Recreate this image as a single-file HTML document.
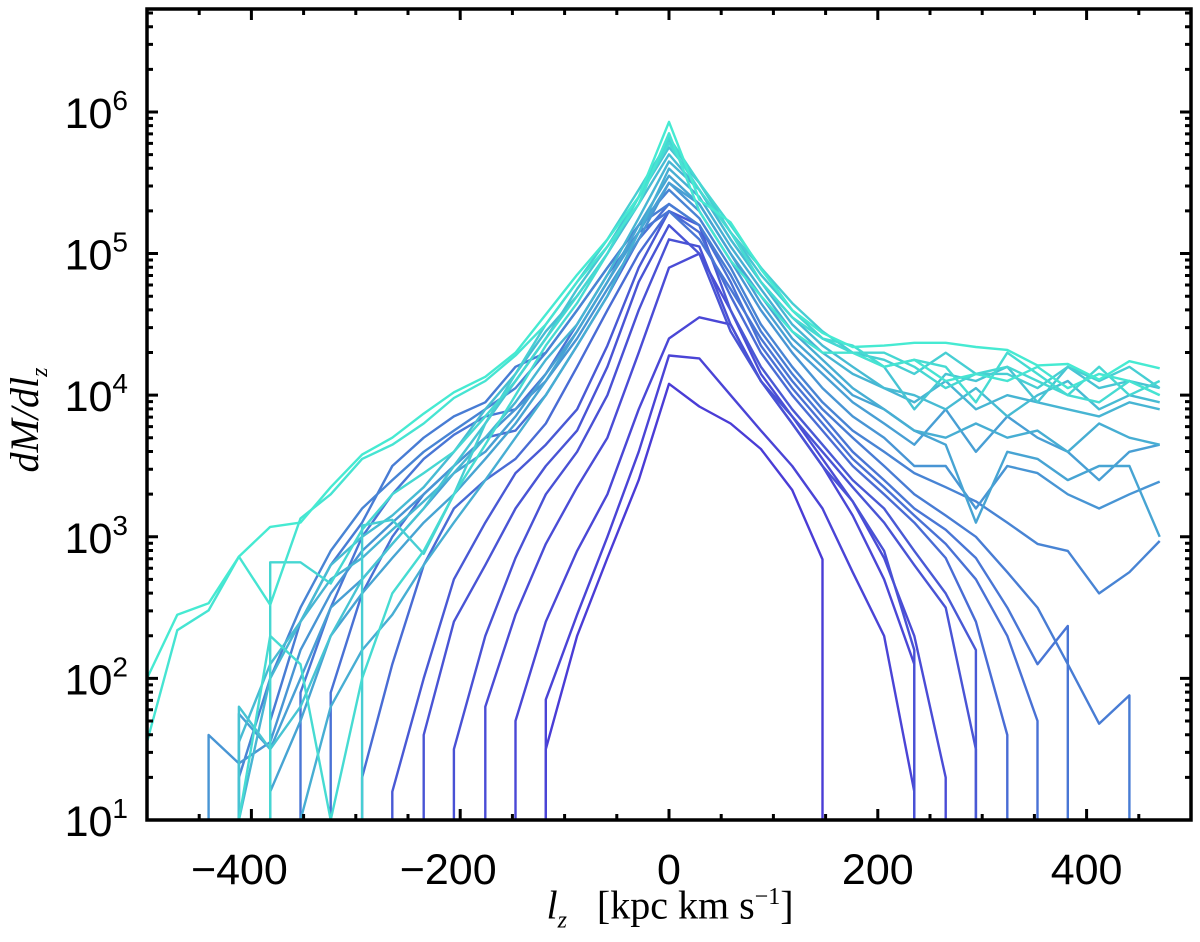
<!DOCTYPE html>
<html><head><meta charset="utf-8"><style>
html,body{margin:0;padding:0;background:#fff;}
svg{display:block;}
.tl{font-family:"Liberation Sans",sans-serif;font-size:43px;fill:#000;}
.sup{font-size:28px;}
</style></head><body>
<svg id="chart" width="1200" height="924" viewBox="0 0 1200 924">
<defs><clipPath id="plotclip"><rect x="147" y="9" width="1044" height="811"/></clipPath></defs>
<g id="lines" clip-path="url(#plotclip)"></g>
<g id="axes"></g>
</svg>
<script>
// bin centres (lz, kpc km/s)
const lzBins = [-500,-471,-441,-412,-382,-353,-324,-294,-265,-235,-206,-176,-147,-118,-88,-59,-29,0,29,59,88,118,147,176,206,235,265,294,324,353,382,412,441,470];
// colour fraction per series (0 = violet, 1 = turquoise)
const seriesShade = [0,0.05,0.07,0.1,0.13,0.15,0.18,0.3,0.33,0.36,0.4,0.45,0.55,0.6,0.63,0.68,0.72,0.75,0.8,0.85,0.9,0.92,0.97,1.0];
// log10(dM/dlz) per bin; 0 = empty bin
const sV1 = [0,0,0,0,0,0,0,0,0,0,0,0,0,1.5,2.3,2.85,3.4,4.08,3.92,3.8,3.62,3.33,2.84,0,0,0,0,0,0,0,0,0,0,0];
const sV2 = [0,0,0,0,0,0,0,0,0,0,0,0,0,1.85,2.45,3.0,3.6,4.28,4.26,4.0,3.75,3.5,3.2,2.75,2.3,1.2,0,0,0,0,0,0,0,0];
const sV3 = [0,0,0,0,0,0,0,0,0,0,0,0,1.7,2.4,2.9,3.3,3.9,4.4,4.55,4.5,4.1,3.8,3.5,3.15,2.7,2.1,0,0,0,0,0,0,0,0];
const sV4 = [0,0,0,0,0,0,0,0,0,0,0,1.8,2.45,2.95,3.35,3.7,4.3,4.9,5.0,4.6,4.15,3.85,3.55,3.25,2.85,2.3,1.3,0,0,0,0,0,0,0];
const sV5 = [0,0,0,0,0,0,0,0,0,0,1.5,2.3,2.85,3.3,3.6,4.0,4.6,5.1,5.05,4.5,4.1,3.8,3.5,3.25,2.9,2.2,0,0,0,0,0,0,0,0];
const sV6 = [0,0,0,0,0,0,0,0,0,1.6,2.4,2.8,3.2,3.5,3.75,4.2,4.8,5.2,5.0,4.45,4.1,3.85,3.6,3.35,3.1,2.8,2.5,1.5,0,0,0,0,0,0];
const sV7 = [0,0,0,0,0,0,0,0,1.2,2.0,2.7,3.1,3.45,3.65,3.9,4.35,4.9,5.3,5.2,4.6,4.2,3.9,3.65,3.4,3.2,2.9,2.6,2.2,0,0,0,0,0,0];
const sB1 = [0,0,0,0,0,0,0,1.3,2.1,2.8,3.2,3.4,3.55,3.8,4.2,4.6,5.0,5.3,5.15,4.7,4.3,4.0,3.75,3.5,3.3,3.1,2.85,2.4,1.6,0,0,0,0,0];
const sB2 = [0,0,0,0,0,0,1.9,2.6,3.0,3.3,3.5,3.7,3.75,4.0,4.35,4.7,5.1,5.35,5.2,4.8,4.35,4.05,3.8,3.55,3.35,3.15,2.95,2.7,2.3,1.7,0,0,0,0];
const sB3 = [0,0,0,0,0,1.9,2.5,3.0,3.3,3.55,3.72,3.85,3.9,4.15,4.5,4.85,5.15,5.3,5.1,4.75,4.4,4.1,3.85,3.6,3.4,3.2,3.05,2.85,2.5,2.1,2.37,0,0,0];
const sB4 = [0,0,0,0,1.7,2.4,2.8,3.1,3.5,3.7,3.85,3.95,4.2,4.3,4.6,4.9,5.2,5.35,5.2,4.85,4.45,4.15,3.9,3.7,3.5,3.3,3.15,3.0,2.75,2.5,2.1,1.68,1.88,0];
const sB5 = [0,0,0,1.3,2.0,2.5,2.9,3.2,3.4,3.6,3.75,3.9,4.05,4.3,4.6,4.9,5.2,5.45,5.25,4.9,4.5,4.2,3.95,3.75,3.6,3.45,3.35,3.25,3.1,2.95,2.9,2.6,2.75,2.97];
const sC1 = [0,0,1.6,1.4,1.55,2.2,2.6,2.9,3.1,3.3,3.5,3.7,3.9,4.1,4.4,4.75,5.1,5.5,5.3,4.95,4.6,4.3,4.05,3.85,3.7,3.5,3.5,3.2,3.5,3.45,3.3,3.2,3.3,3.39];
const sC2 = [0,0,0,1.75,1.5,2.0,2.5,2.7,2.95,3.2,3.45,3.6,3.85,4.15,4.45,4.8,5.15,5.5,5.35,5.0,4.65,4.35,4.15,3.95,3.8,3.65,3.9,3.6,3.85,3.7,3.6,3.4,3.6,3.65];
const sC3 = [0,0,0,0,1.2,1.7,2.3,2.6,2.85,3.1,3.3,3.55,3.8,4.1,4.45,4.8,5.2,5.55,5.35,5.0,4.7,4.4,4.2,4.0,3.9,3.75,3.65,3.1,3.6,3.55,3.4,3.5,3.5,3.0];
const sC4 = [0,0,0,0,0,1.0,1.8,2.2,2.45,2.8,3.1,3.4,3.7,4.0,4.35,4.7,5.15,5.6,5.4,5.05,4.75,4.45,4.25,4.05,3.9,3.75,3.7,3.8,3.7,3.75,3.6,3.8,3.7,3.65];
const sC5 = [0,0,0,1.0,2.0,2.4,2.7,2.85,3.05,3.25,3.45,3.7,3.95,4.25,4.5,4.85,5.25,5.65,5.45,5.1,4.8,4.5,4.3,4.15,4.05,3.95,4.1,3.9,4.0,3.95,3.9,3.85,3.95,3.9];
const sQ1 = [0,0,0,1.55,2.1,2.4,2.8,3.0,3.15,3.35,3.6,3.9,4.15,4.45,4.7,5.0,5.35,5.7,5.45,5.1,4.8,4.55,4.35,4.2,4.05,4.0,3.9,4.05,3.85,4.0,4.1,3.9,4.0,3.95];
const sQ2 = [0,0,0,1.8,1.5,1.8,2.3,2.7,2.95,3.2,3.5,3.8,4.1,4.4,4.75,5.05,5.4,5.75,5.5,5.15,4.85,4.6,4.4,4.3,4.2,3.9,4.15,4.1,4.2,3.95,4.2,4.05,4.1,4.05];
const sQ3 = [0,0,0,0,0,0,0,3.08,3.12,2.88,3.3,3.8,4.15,4.5,4.8,5.1,5.45,5.8,5.5,5.15,4.9,4.65,4.45,4.3,4.25,4.15,4.3,4.15,4.15,4.05,4.2,4.1,4.2,4.05];
const sQ4 = [0,0,0,0,2.82,2.82,2.67,3.05,3.3,3.45,3.6,3.85,4.1,4.4,4.7,5.0,5.4,5.82,5.5,5.2,4.9,4.6,4.4,4.3,4.3,4.2,4.05,4.15,4.2,4.1,4.0,4.2,4.0,4.1];
const sQ5 = [0,0,0,1.0,2.3,2.1,1.0,2.0,2.6,2.9,3.3,3.65,4.0,4.35,4.65,5.0,5.4,5.78,5.45,5.15,4.8,4.55,4.4,4.35,4.2,4.25,4.2,3.95,4.3,4.15,4.0,3.95,4.1,4.0];
const sT2 = [1.55,2.34,2.48,2.86,2.52,3.13,3.3,3.55,3.65,3.8,3.98,4.1,4.28,4.5,4.8,5.05,5.35,5.85,5.3,4.95,4.7,4.45,4.3,4.3,4.2,4.25,4.1,4.15,4.1,4.2,4.05,4.15,4.1,4.0];
const sT1 = [2.0,2.45,2.53,2.86,3.07,3.1,3.35,3.58,3.7,3.87,4.02,4.13,4.3,4.57,4.85,5.1,5.4,5.93,5.38,5.22,4.89,4.6,4.44,4.34,4.35,4.37,4.37,4.34,4.32,4.21,4.22,4.11,4.24,4.19];
const allSeries = [sV1,sV2,sV3,sV4,sV5,sV6,sV7,sB1,sB2,sB3,sB4,sB5,sC1,sC2,sC3,sC4,sC5,sQ1,sQ2,sQ3,sQ4,sQ5,sT2,sT1];
const xTicks = [-400,-200,0,200,400];
const yTicks = [1,2,3,4,5,6];

const X0=147, X1=1191, Y0=9, Y1=820;
const xMin=-500, xMax=500, yMin=1, yMax=6.727;
function xs(v){return X0+(v-xMin)/(xMax-xMin)*(X1-X0);}
function ys(l){return Y1-(l-yMin)/(yMax-yMin)*(Y1-Y0);}
function shade(t){
  const a=[74,60,214], b=[72,140,212], c=[70,234,210];
  let p,q,u;
  if(t<0.5){p=a;q=b;u=t/0.5;}else{p=b;q=c;u=(t-0.5)/0.5;}
  return 'rgb('+p.map((v,i)=>Math.round(v+(q[i]-v)*u)).join(',')+')';
}
const NS='http://www.w3.org/2000/svg';
const lg=document.getElementById('lines');
allSeries.forEach((s,si)=>{
  let first=-1,last=-1;
  s.forEach((v,i)=>{if(v>0){if(first<0)first=i;last=i;}});
  if(first<0)return;
  let d='';
  if(first>0) d+='M'+xs(lzBins[first]).toFixed(1)+','+(Y1+20)+' L';
  else d+='M';
  const pts=[];
  for(let i=first;i<=last;i++){
    const v=s[i]>0?s[i]:-1;
    pts.push(xs(lzBins[i]).toFixed(1)+','+ys(v).toFixed(1));
  }
  d+=pts.join(' L');
  if(last<s.length-1) d+=' L'+xs(lzBins[last]).toFixed(1)+','+(Y1+20);
  const p=document.createElementNS(NS,'path');
  p.setAttribute('d',d);
  p.setAttribute('fill','none');
  p.setAttribute('stroke',shade(seriesShade[si]));
  p.setAttribute('stroke-width','2.4');
  p.setAttribute('stroke-linejoin','round');
  
  
  lg.appendChild(p);
});
const ax=document.getElementById('axes');
function add(tag,attrs,text){
  const e=document.createElementNS(NS,tag);
  for(const k in attrs)e.setAttribute(k,attrs[k]);
  if(text!==undefined)e.textContent=text;
  ax.appendChild(e);return e;
}
let td='';
for(let v=-450;v<=450;v+=50){
  const x=xs(v); const L=(v%200===0)?11:6;
  td+='M'+x+','+Y1+'v-'+L+'M'+x+','+Y0+'v'+L;
}
for(let dec=1;dec<=6;dec++){
  for(let m=1;m<=9;m++){
    const l=dec+Math.log10(m); if(l>yMax)break;
    const y=ys(l); const L=(m===1)?11:6;
    td+='M'+X0+','+y+'h'+L+'M'+X1+','+y+'h-'+L;
  }
}
const tk=add('path',{d:td,stroke:'#000','stroke-width':'3',fill:'none'});


const fr=add('rect',{x:X0,y:Y0,width:X1-X0,height:Y1-Y0,fill:'none',stroke:'#000','stroke-width':'3.5'});


xTicks.forEach(v=>{
  const t=add('text',{x:xs(v)-(v<0?12:0),y:884,'text-anchor':'middle','class':'tl'},(v<0?'\u2212':'')+Math.abs(v));
  
  
});
yTicks.forEach(v=>{
  const t=add('text',{x:128,y:ys(v)+16,'text-anchor':'end','class':'tl'});
  
  
  const a=document.createElementNS(NS,'tspan');a.textContent='10';t.appendChild(a);
  const b=document.createElementNS(NS,'tspan');b.setAttribute('class','sup');b.setAttribute('dy','-18');b.textContent=String(v);t.appendChild(b);
});
</script>
<div style="position:absolute;left:0;top:0;width:1200px;height:924px;pointer-events:none">
<div style="position:absolute;left:-65px;top:398px;width:180px;height:44px;transform:rotate(-90deg);text-align:center;font-family:'Liberation Serif',serif;font-style:italic;font-size:40px;line-height:44px;">dM/dl<sub style="font-size:24px">z</sub></div>
<div style="position:absolute;left:420px;top:875px;width:500px;text-align:center;font-family:'Liberation Serif',serif;font-size:40px;line-height:44px;"><i>l</i><sub style="font-size:24px"><i>z</i></sub>&nbsp;&nbsp; [kpc km s<sup style="font-size:24px">&minus;1</sup>]</div>
</div>
</body></html>
